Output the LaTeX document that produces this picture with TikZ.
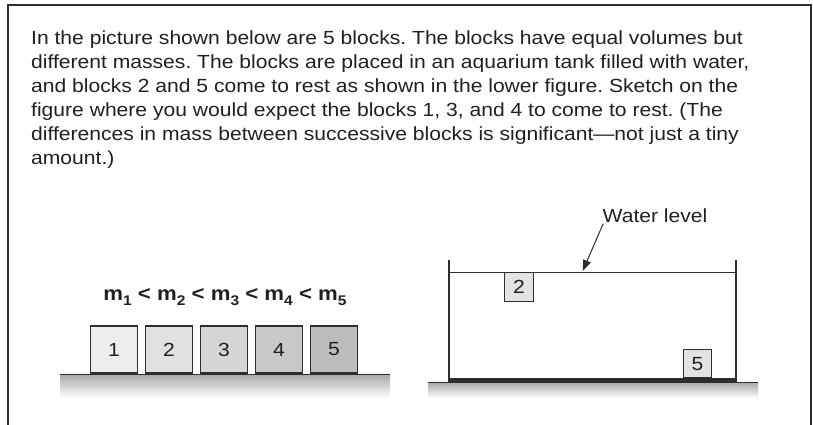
\documentclass[tikz,border=0pt]{standalone}
\usepackage{fontspec}
\setmainfont{Liberation Sans}[FakeStretch=1.11]
\usepackage{tikz}
\usetikzlibrary{positioning,arrows.meta}
\usepackage{xcolor}
\definecolor{inkdark}{HTML}{231F20}
\definecolor{linedark}{HTML}{2E2E2E}
\definecolor{groundgray}{HTML}{A8A8A8}
\definecolor{shadeA}{HTML}{EDEDEE}
\definecolor{shadeB}{HTML}{E1E1E2}
\definecolor{shadeC}{HTML}{D5D5D6}
\definecolor{shadeD}{HTML}{C8C8C9}
\definecolor{shadeE}{HTML}{BBBCBD}
\definecolor{tankfill}{HTML}{E3E3E3}
\newcommand{\massidx}[1]{\raisebox{-0.28em}{\fontsize{14}{14}\selectfont #1}}
\frenchspacing

\begin{document}
\begin{tikzpicture}[x=1pt, y=1pt,
      every node/.style={text=inkdark},
      block/.style={draw=linedark, line width=1.1pt, minimum size=47pt,
                    inner sep=0pt, font=\fontsize{19}{19}\selectfont},
      smallblock/.style={block, minimum size=28.5pt, fill=tankfill},
      ground/.style={top color=groundgray, bottom color=white, draw=none}
    ]
      \useasboundingbox (0,0) rectangle (813,424);
      % Frame, open at the bottom
      \draw[linedark, line width=1.4pt] (8,-5) -- (8,419) -- (811,419) -- (811,-5);

      % Question text
      \node[anchor=north west, align=left, inner sep=0pt,
            font=\fontsize{19}{24}\selectfont] (task) at (31,393) {%
        In the picture shown below are 5 blocks. The blocks have equal volumes but\\
        different masses. The blocks are placed in an aquarium tank filled with water,\\
        and blocks 2 and 5 come to rest as shown in the lower figure. Sketch on the\\
        figure where you would expect the blocks 1, 3, and 4 to come to rest. (The\\
        differences in mass between successive blocks is significant---not just a tiny\\
        amount.)};

      % Blocks on the table
      \fill[ground] (60,26) rectangle (390,50);
      \draw[linedark, line width=1pt] (60,50) -- (390,50);
      \foreach \shade [count=\i] in {shadeA,shadeB,shadeC,shadeD,shadeE}{
        \node[block, fill=\shade] (b\i) at (59+55*\i, 74.5) {\i};
      }
      \node[anchor=base, font=\bfseries\fontsize{20}{20}\selectfont] (order) at (225,124)
        {m\massidx{1} < m\massidx{2} < m\massidx{3} < m\massidx{4} < m\massidx{5}};

      % Tank
      \fill[ground] (428,26) rectangle (758,42);
      \draw[linedark, line width=1pt] (428,42) -- (758,42);
      \draw[linedark, line width=2pt] (449,164) -- (449,44);
      \draw[linedark, line width=2pt] (736,164) -- (736,44);
      \draw[linedark, line width=3.5pt] (448,44) -- (737,44);
      \draw[linedark, line width=1pt] (450,152) -- (735,152);
      \node[smallblock, anchor=north] (t2) at (519,152) {2};
      \node[smallblock, anchor=south] (t5) at (697.5,45.5) {5};

      % Label
      \node[anchor=base, font=\fontsize{19}{19}\selectfont] (wlabel) at (655,202) {Water level};
      \coordinate (surface) at (582.7,153);
      \draw[linedark, line width=1pt, -{Triangle[length=11pt,width=8pt]}]
        ([xshift=4pt,yshift=2pt]wlabel.south west) -- (surface);
    \end{tikzpicture}
\end{document}
